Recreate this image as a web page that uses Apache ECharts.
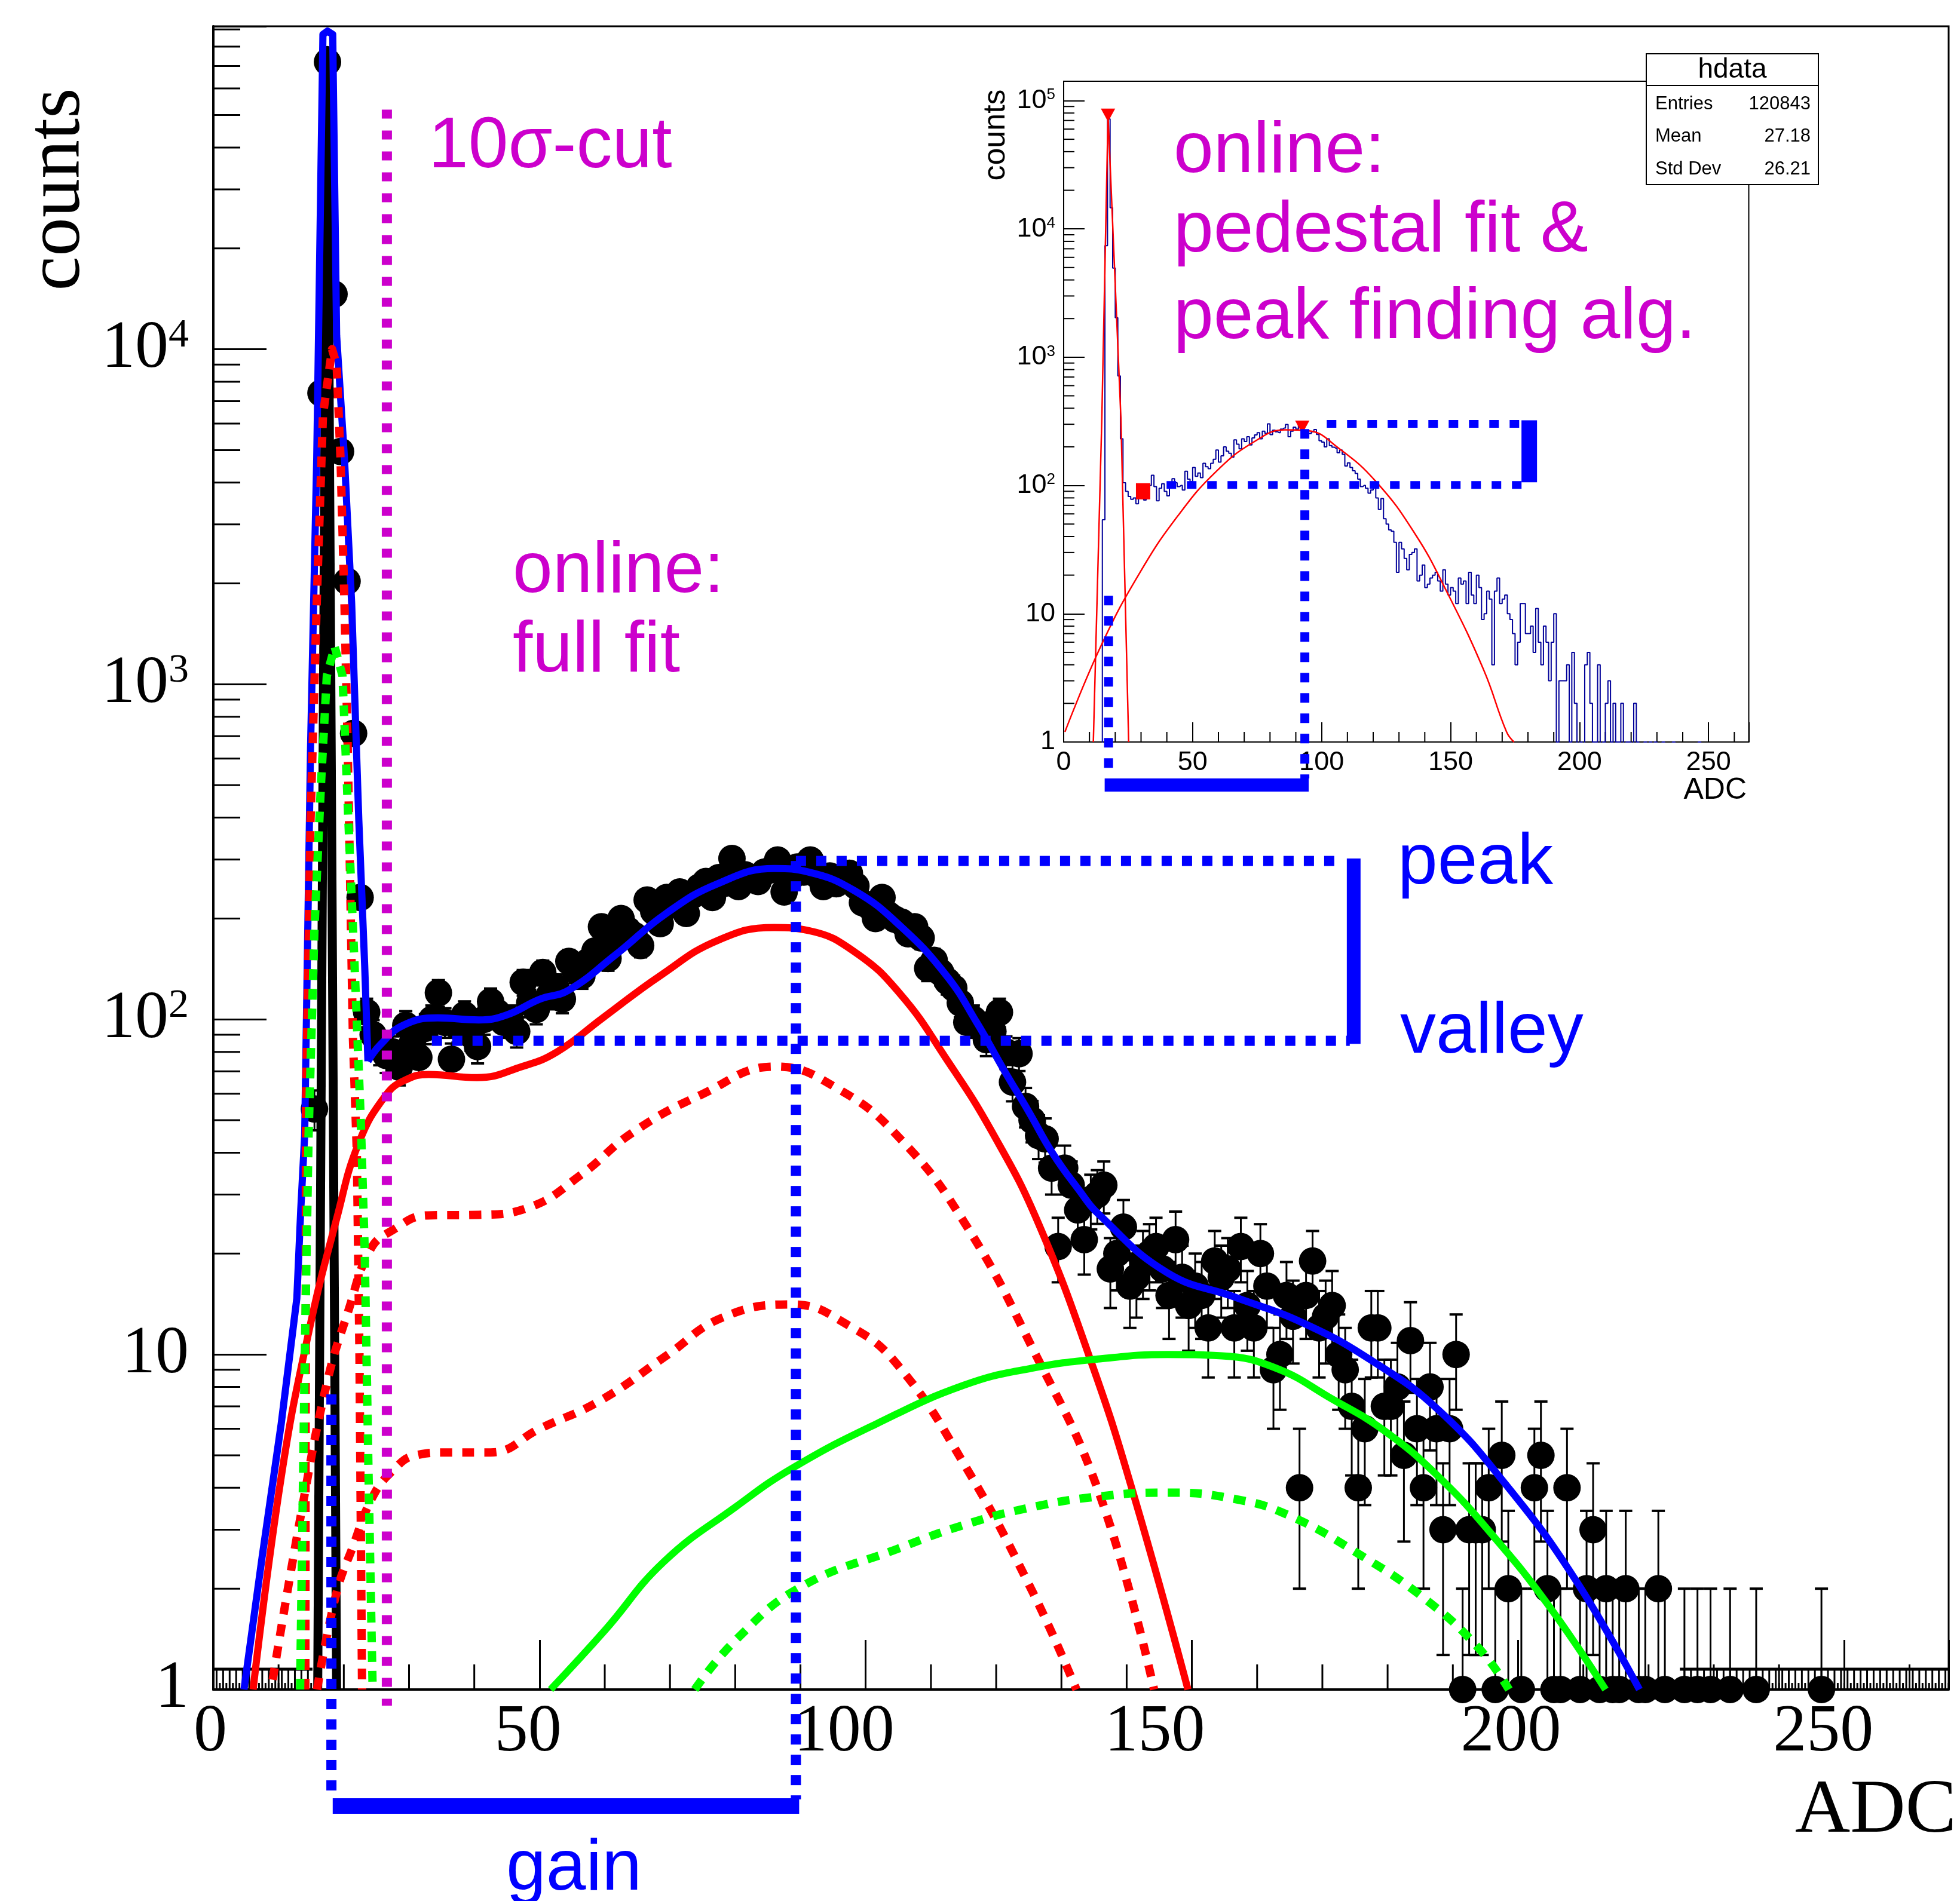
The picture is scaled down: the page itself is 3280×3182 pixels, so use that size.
<!DOCTYPE html>
<html>
<head>
<meta charset="utf-8">
<title>ADC spectrum</title>
<script src="https://cdn.jsdelivr.net/npm/echarts@6.0.0/dist/echarts.min.js"></script>
<style>
html,body{margin:0;padding:0;background:#ffffff;}
#chart{width:3280px;height:3182px;}
</style>
</head>
<body>
<div id="chart"></div>
<script>
// ===================== DATA =====================
// counts per 1-ADC bin; bin i covers [i, i+1)
const binWidth = 1;
const counts = [
  0,0,0,0,0,0,0,0,0,0,
  0,0,0,0,0,54,7400,72000,14600,4950,
  2030,714,231,105,90,82,78,80,72,96,
  85,77,94,100,120,98,76,95,103,90,
  83,100,113,105,98,100,92,129,112,107,
  138,118,125,115,149,140,135,149,160,189,
  152,170,200,185,178,166,227,210,193,231,
  220,240,207,235,248,258,231,265,255,302,
  249,270,262,258,275,280,299,240,265,285,
  275,299,270,249,268,254,262,273,250,223,
  218,200,231,205,199,195,180,189,175,142,
  150,138,130,124,112,98,100,95,87,92,
  105,80,65,79,55,50,45,44,36,21,
  36,32,27,22,29,30,32,18,20,24,
  16,17,19,20,21,18,15,22,17,14,
  16,15,12,19,17,18,12,21,14,12,
  20,16,9,10,15,13,4,15,19,12,
  13,14,10,9,7,4,6,12,12,7,
  7,8,5,11,6,4,8,6,3,6,
  10,1,3,3,3,4,1,5,2,0,
  1,0,4,5,2,1,1,4,0,1,
  2,3,1,2,1,1,2,0,1,1,
  0,2,1,0,0,1,0,1,0,1,
  0,0,1,0,0,0,1,0,0,0,
  0,0,0,0,0,0,1,0,0,0,
  0,0,0,0,0,0,0,0,0,0,
  0,0,0,0,0,0
];

// fit components [ADC, counts]
const fitTotalPedestal = [[4.7,1],[7.5,2.5],[10.4,6.2],[12.8,14.7],[13.4,27],[14.0,45],[14.9,645],[15.85,4720],[16.8,87000],[17.5,89000],[18.3,87000],[18.9,11000],[20.1,4720],[21.2,1750],[22.3,393],[23.2,145],[23.7,75]];
const fitTotalSignal = [[23.7,75],[25.6,84],[29.1,96],[34.4,101],[40.7,99.6],[44.9,103],[50.1,115],[54.4,122],[61.5,155],[69.4,207],[77.3,254],[86,282],[91.3,275],[98.3,242],[105.3,190],[112.4,135],[117,98],[121.3,70],[125,53],[128.6,40],[132.4,31.5],[135.9,26],[146.3,17.5],[156.7,14.8],[167.1,12.4],[177.5,9.6],[187.9,6.8],[198.3,4.05],[208.7,2.14],[218.6,1]];
const fitPedestal = [[16.0,1],[16.5,50],[17.45,78000],[18.4,50],[18.9,1]];
const fitSignal = [[6.1,1],[10.4,4.3],[14.6,11.6],[18.9,25.4],[22.3,42.8],[26.5,59.6],[29.5,66],[33,68.5],[40.4,67],[47.4,72.4],[52.7,80],[59.7,101],[68.5,135],[77.3,172],[86,188],[91.3,184],[98.3,159],[105.3,119],[112.4,76],[119.4,46],[126.4,24.8],[134.9,9.1],[141.1,3.8],[149.4,1]];
const fitSignalA = [[9.1,1.07],[13.4,3.3],[17.4,8.2],[20.7,13.5],[24.1,20.6],[27.5,23.5],[32.8,26],[40.7,26.1],[48.5,27.5],[56.4,34.4],[64.3,46],[74.8,59.6],[86.1,72.3],[95.9,61.8],[105.3,44],[115.1,24.8],[125.5,10.5],[135.9,3.8],[144.2,1]];
const fitSignalB = [[15.9,1],[18.9,1.95],[21.4,2.67],[24.4,3.75],[27.5,4.5],[31,5.0],[36,5.1],[42.5,5.1],[50,6.0],[59.4,7.3],[69.4,9.9],[78.1,12.9],[88.7,14.1],[97.4,12.2],[104.9,9.3],[115.1,4.7],[125.5,1.97],[132.3,1]];
const fitPedRed = [[14.1,1],[14.2,54],[14.9,393],[15.85,1750],[16.8,6350],[18.2,10000],[18.9,9000],[19.5,4700],[20.1,1750],[20.6,645],[21.0,239],[21.4,88],[22.0,40],[22.4,10],[22.8,1]];
const fitPedGreen = [[13.3,1],[14.0,9.4],[14.6,45],[15.5,186],[16.5,504],[17.4,1060],[18.6,1295],[19.8,1060],[20.7,393],[21.65,145],[22.6,50],[23.2,20.6],[23.8,4.3],[24.4,1.05]];
const fitBackground = [[51.7,1],[60,1.5],[69,2.4],[80,3.5],[88.7,4.57],[101.6,6.2],[115.1,8.1],[125.5,9.1],[135.9,9.7],[146.3,10],[154.6,9.9],[162.9,9.1],[171.3,7.4],[179.6,5.9],[187.9,4.3],[196.2,2.87],[204.5,1.8],[213.4,1]];
const fitBackgroundB = [[73.8,1],[80,1.4],[90,2.02],[104.9,2.63],[115.1,3.1],[125.5,3.5],[135.9,3.77],[146.3,3.87],[156.7,3.7],[165,3.3],[175.4,2.55],[185.8,1.86],[194.1,1.32],[198.6,1]];

// empty-bin bands along the bottom [ADC from, ADC to, level]
const emptyBands = [[0, 15.2, 1.15], [224.8, 266, 1.15]];

// annotations (data units)
const cutLine = [[26.6, 51900], [26.6, 0.895]];
const peakLine = [[89.3, 297], [172.7, 297]];
const valleyLine = [[33.5, 86.3], [174.2, 86.3]];
const peakValleyBar = [[174.8, 302], [174.8, 84.5]];
const gainLeft = [[18.1, 7.6], [18.1, 0.47]];
const gainRight = [[89.3, 297], [89.3, 0.47]];
const gainBar = [[18.3, 0.449], [89.8, 0.449]];

// inset: online fits and peak finding
const insetPedFit = [[11.5,1],[14.8,333],[17.2,77000],[22.2,333],[25.2,1]];
const insetWideFit = [[0.5,1.2],[14.8,5.8],[29.6,21],[44.3,58],[59.2,129],[74,220],[85.8,271],[94.7,267],[106.5,196],[121.3,106],[136.2,42],[148,15.6],[162.8,3.66],[171.7,1.2],[174.6,1]];
const insetPeaks = [[17.2, 77000], [92.5, 285]];
const insetValley = [[30.8, 90]];
const insetPeakLine = [[102, 302], [177.3, 302]];
const insetValleyLine = [[39.9, 101], [179, 101]];
const insetBar = [[180.5, 322], [180.5, 106]];
const insetGainLeft = [[17.4, 13.8], [17.4, 0.52]];
const insetGainRight = [[93.5, 275], [93.5, 0.52]];
const insetGainBar = [[15.9, 0.462], [95, 0.462]];

// axes
const xMajorTicks = [0, 50, 100, 150, 200, 250];
const xMinorTicks = [10,20,30,40,60,70,80,90,110,120,130,140,160,170,180,190,210,220,230,240,260];
const mainYMax = 92000, insetYMax = 141600;
const statsTitle = 'hdata';
const statsRows = [['Entries', '120843'], ['Mean', '27.18'], ['Std Dev', '26.21']];

// ===================== BUILD =====================
const points = [];
counts.forEach((c, i) => { if (c > 0) points.push([(i + 0.5) * binWidth, c]); });
const histSteps = counts.map((c, i) => [(i + 0.5) * binWidth, c > 0 ? c : 0.2]);

function logMinorTicks(max) {
  const out = [];
  for (let d = 1; d <= max; d *= 10) for (let k = 2; k <= 9; k++) if (k * d <= max) out.push(k * d);
  return out;
}

const MAG = '#cc00cc', BLUE = '#0000ff', RED = '#ff0000', GREEN = '#00ff00';
const SERIF = 'Liberation Serif', SANS = 'Liberation Sans';

function tickSeries(xi, yi, values, dir, len, width) {
  return {
    type: 'custom', xAxisIndex: xi, yAxisIndex: yi, silent: true, z: 3, clip: false,
    data: values.map(v => dir === 'x' ? [v, 1] : [0, v]),
    renderItem: function (params, api) {
      const p = api.coord([api.value(0), api.value(1)]);
      const shape = dir === 'x' ? { x1: p[0], y1: p[1], x2: p[0], y2: p[1] - len }
                                : { x1: p[0], y1: p[1], x2: p[0] + len, y2: p[1] };
      return { type: 'line', shape: shape, style: { stroke: '#000', lineWidth: width } };
    }
  };
}

function curve(data, color, width, dash, z, xi, yi, clip, smooth) {
  return {
    type: 'line', data: data, xAxisIndex: xi || 0, yAxisIndex: yi || 0,
    showSymbol: false, symbol: 'none', silent: true, z: z,
    clip: clip !== false, smooth: smooth || false,
    lineStyle: { color: color, width: width, type: dash || 'solid', cap: 'butt', join: 'round' }
  };
}

const xShift = { 0: 10, 50: 38, 100: 72, 150: 124, 200: 24, 250: 70 };
const xRich = {};
Object.keys(xShift).forEach(k => {
  xRich['l' + k] = { fontFamily: SERIF, fontSize: 112, color: '#000', lineHeight: 112, padding: [0, xShift[k], 0, 0] };
});

function decadeLabel(v) {
  const e = Math.log10(v), r = Math.round(e);
  if (Math.abs(e - r) > 1e-6) return '';
  if (r === 0) return '{b|1}';
  if (r === 1) return '{b|10}';
  return '{b|10}{s|' + r + '}';
}

const option = {
  animation: false,
  backgroundColor: '#ffffff',
  grid: [
    { left: 357, top: 44, right: 19, bottom: 354, show: true, borderColor: '#000', borderWidth: 3, backgroundColor: 'rgba(0,0,0,0)' },
    { left: 1780, top: 136, width: 1146.5, height: 1106, show: true, borderColor: '#000', borderWidth: 2, backgroundColor: '#ffffff' }
  ],
  xAxis: [
    {
      gridIndex: 0, type: 'value', min: 0, max: 266, interval: 50,
      axisLine: { show: true, onZero: false, lineStyle: { color: '#000', width: 4 } },
      axisTick: { show: true, inside: true, length: 83, lineStyle: { color: '#000', width: 3 } },
      splitLine: { show: false },
      axisLabel: {
        margin: 17, color: '#000', fontFamily: SERIF, fontSize: 112,
        formatter: v => (xMajorTicks.indexOf(v) >= 0 ? '{l' + v + '|' + v + '}' : ''),
        rich: xRich
      }
    },
    {
      gridIndex: 1, type: 'value', min: 0, max: 265.6, interval: 50,
      axisLine: { show: true, onZero: false, lineStyle: { color: '#000', width: 2 } },
      axisTick: { show: true, inside: true, length: 33, lineStyle: { color: '#000', width: 2 } },
      splitLine: { show: false },
      axisLabel: {
        margin: 12, color: '#000', fontFamily: SANS, fontSize: 45,
        formatter: v => (xMajorTicks.indexOf(v) >= 0 ? String(v) : '')
      }
    }
  ],
  yAxis: [
    {
      gridIndex: 0, type: 'log', logBase: 10, min: 1, max: mainYMax, interval: 1,
      axisLine: { show: true, onZero: false, lineStyle: { color: '#000', width: 4 } },
      axisTick: { show: true, inside: true, length: 89, lineStyle: { color: '#000', width: 3 } },
      splitLine: { show: false }, minorTick: { show: false },
      axisLabel: {
        margin: 41, color: '#000', formatter: decadeLabel,
        rich: {
          b: { fontFamily: SERIF, fontSize: 112, lineHeight: 112, color: '#000' },
          s: { fontFamily: SERIF, fontSize: 68, lineHeight: 44, verticalAlign: 'top', color: '#000' }
        }
      }
    },
    {
      gridIndex: 1, type: 'log', logBase: 10, min: 1, max: insetYMax, interval: 1,
      axisLine: { show: true, onZero: false, lineStyle: { color: '#000', width: 2 } },
      axisTick: { show: true, inside: true, length: 35, lineStyle: { color: '#000', width: 2 } },
      splitLine: { show: false }, minorTick: { show: false },
      axisLabel: {
        margin: 14, color: '#000', formatter: decadeLabel,
        rich: {
          b: { fontFamily: SANS, fontSize: 45, lineHeight: 45, color: '#000' },
          s: { fontFamily: SANS, fontSize: 26, lineHeight: 22, verticalAlign: 'top', color: '#000' }
        }
      }
    }
  ],
  series: [
    // minor ticks
    tickSeries(0, 0, xMinorTicks, 'x', 42, 3),
    tickSeries(0, 0, logMinorTicks(mainYMax), 'y', 45, 3),
    tickSeries(1, 1, xMinorTicks, 'x', 17, 2),
    tickSeries(1, 1, logMinorTicks(insetYMax), 'y', 18, 2),
    // empty-bin bands
    {
      type: 'custom', xAxisIndex: 0, yAxisIndex: 0, silent: true, z: 3, clip: true,
      data: emptyBands,
      renderItem: function (params, api) {
        const x0 = api.value(0), x1 = api.value(1), lv = api.value(2);
        const a = api.coord([x0, lv]), b = api.coord([x1, lv]);
        const base = api.coord([x0, 1])[1];
        const children = [{ type: 'line', shape: { x1: a[0], y1: a[1], x2: b[0], y2: b[1] }, style: { stroke: '#000', lineWidth: 5 } }];
        for (let x = Math.ceil(x0 * 2) / 2; x <= x1; x += 0.5) {
          const p = api.coord([x, lv]);
          const tall = Math.abs(x - Math.floor(x) - 0.5) < 1e-6;
          children.push({ type: 'line', shape: { x1: p[0], y1: tall ? p[1] : base - 11, x2: p[0], y2: base }, style: { stroke: '#000', lineWidth: 3 } });
        }
        return { type: 'group', children: children };
      }
    },
    // error bars
    {
      type: 'custom', xAxisIndex: 0, yAxisIndex: 0, silent: true, z: 4, clip: true,
      data: points,
      renderItem: function (params, api) {
        const x = api.value(0), n = api.value(1), e = Math.sqrt(n);
        const hi = api.coord([x, n + e]);
        const loV = n - e;
        const lo = api.coord([x, Math.max(loV, 1)]);
        const children = [
          { type: 'line', shape: { x1: hi[0], y1: hi[1], x2: lo[0], y2: lo[1] }, style: { stroke: '#000', lineWidth: 3 } },
          { type: 'line', shape: { x1: hi[0] - 11, y1: hi[1], x2: hi[0] + 11, y2: hi[1] }, style: { stroke: '#000', lineWidth: 4 } }
        ];
        if (loV >= 1) children.push({ type: 'line', shape: { x1: lo[0] - 11, y1: lo[1], x2: lo[0] + 11, y2: lo[1] }, style: { stroke: '#000', lineWidth: 4 } });
        return { type: 'group', children: children };
      }
    },
    // data points
    {
      type: 'scatter', xAxisIndex: 0, yAxisIndex: 0, data: points, symbol: 'circle', symbolSize: 46,
      itemStyle: { color: '#000', opacity: 1 }, silent: true, z: 5, clip: false
    },
    // fit components
    curve(fitPedestal, '#000', 15, 'solid', 6),
    curve(fitTotalPedestal, BLUE, 12, 'solid', 7),
    curve(fitTotalSignal, BLUE, 12, 'solid', 7, 0, 0, true, 0.45),
    curve(fitSignal, RED, 12, 'solid', 8, 0, 0, true, 0.45),
    curve(fitPedRed, RED, 14, [18, 15], 9),
    curve(fitSignalA, RED, 14, [20, 17], 9, 0, 0, true, 0.45),
    curve(fitSignalB, RED, 14, [20, 17], 9, 0, 0, true, 0.45),
    curve(fitBackground, GREEN, 12, 'solid', 10, 0, 0, true, 0.45),
    curve(fitPedGreen, GREEN, 14, [18, 15], 10),
    curve(fitBackgroundB, GREEN, 14, [20, 17], 10, 0, 0, true, 0.45),
    // annotations
    curve(peakLine, BLUE, 17, [17, 17], 11, 0, 0, false),
    curve(valleyLine, BLUE, 17, [17, 17], 11, 0, 0, false),
    curve(gainLeft, BLUE, 17, [17, 17], 11, 0, 0, false),
    curve(gainRight, BLUE, 17, [17, 17], 11, 0, 0, false),
    curve(peakValleyBar, BLUE, 23, 'solid', 11, 0, 0, false),
    curve(gainBar, BLUE, 26, 'solid', 11, 0, 0, false),
    curve(cutLine, MAG, 17, [15, 20], 12, 0, 0, false),
    // ---------- inset ----------
    {
      type: 'line', xAxisIndex: 1, yAxisIndex: 1, data: histSteps, step: 'middle',
      showSymbol: false, symbol: 'none', silent: true, z: 6, clip: true,
      lineStyle: { color: '#000099', width: 2 }
    },
    curve(insetPedFit, RED, 2.5, 'solid', 7, 1, 1),
    curve(insetWideFit, RED, 2.5, 'solid', 7, 1, 1, true, 0.45),
    {
      type: 'scatter', xAxisIndex: 1, yAxisIndex: 1, data: insetPeaks, symbol: 'triangle', symbolRotate: 180,
      symbolSize: [24, 22], itemStyle: { color: RED, opacity: 1 }, silent: true, z: 8, clip: false
    },
    {
      type: 'scatter', xAxisIndex: 1, yAxisIndex: 1, data: insetValley, symbol: 'rect',
      symbolSize: [24, 27], itemStyle: { color: RED, opacity: 1 }, silent: true, z: 8, clip: false
    },
    curve(insetPeakLine, BLUE, 13, [16, 18], 9, 1, 1, false),
    curve(insetValleyLine, BLUE, 13, [16, 18], 9, 1, 1, false),
    curve(insetGainLeft, BLUE, 15, [16, 18], 9, 1, 1, false),
    curve(insetGainRight, BLUE, 15, [16, 18], 9, 1, 1, false),
    curve(insetBar, BLUE, 26, 'solid', 9, 1, 1, false),
    curve(insetGainBar, BLUE, 22, 'solid', 9, 1, 1, false)
  ],
  graphic: {
    elements: [
      // main axis titles
      { type: 'text', x: 98, y: 317, rotation: Math.PI / 2, z: 50,
        style: { text: 'counts', fontFamily: SERIF, fontSize: 130, fill: '#000', align: 'center', verticalAlign: 'middle' } },
      { type: 'text', x: 3274, y: 3032, z: 50,
        style: { text: 'ADC', fontFamily: SERIF, fontSize: 128, fill: '#000', align: 'right', verticalAlign: 'middle' } },
      // main annotations
      { type: 'text', x: 717, y: 247, z: 50,
        style: { text: '10\u03c3-cut', fontFamily: SANS, fontSize: 120, fill: MAG, align: 'left', verticalAlign: 'middle' } },
      { type: 'text', x: 858, y: 958, z: 50,
        style: { text: 'online:', fontFamily: SANS, fontSize: 120, fill: MAG, align: 'left', verticalAlign: 'middle' } },
      { type: 'text', x: 858, y: 1091, z: 50,
        style: { text: 'full fit', fontFamily: SANS, fontSize: 120, fill: MAG, align: 'left', verticalAlign: 'middle' } },
      { type: 'text', x: 2339, y: 1446, z: 50,
        style: { text: 'peak', fontFamily: SANS, fontSize: 120, fill: BLUE, align: 'left', verticalAlign: 'middle' } },
      { type: 'text', x: 2343, y: 1729, z: 50,
        style: { text: 'valley', fontFamily: SANS, fontSize: 120, fill: BLUE, align: 'left', verticalAlign: 'middle' } },
      { type: 'text', x: 847, y: 3130, z: 50,
        style: { text: 'gain', fontFamily: SANS, fontSize: 120, fill: BLUE, align: 'left', verticalAlign: 'middle' } },
      // inset titles
      { type: 'text', x: 1667, y: 226, rotation: Math.PI / 2, z: 50,
        style: { text: 'counts', fontFamily: SANS, fontSize: 52, fill: '#000', align: 'center', verticalAlign: 'middle' } },
      { type: 'text', x: 2923, y: 1323, z: 50,
        style: { text: 'ADC', fontFamily: SANS, fontSize: 50, fill: '#000', align: 'right', verticalAlign: 'middle' } },
      // inset annotations
      { type: 'text', x: 1964, y: 255, z: 50,
        style: { text: 'online:', fontFamily: SANS, fontSize: 120, fill: MAG, align: 'left', verticalAlign: 'middle' } },
      { type: 'text', x: 1964, y: 388, z: 50,
        style: { text: 'pedestal fit &', fontFamily: SANS, fontSize: 120, fill: MAG, align: 'left', verticalAlign: 'middle' } },
      { type: 'text', x: 1964, y: 533, z: 50,
        style: { text: 'peak finding alg.', fontFamily: SANS, fontSize: 120, fill: MAG, align: 'left', verticalAlign: 'middle' } },
      // stats box
      { type: 'rect', z: 60, shape: { x: 2755, y: 90, width: 288, height: 219 }, style: { fill: '#fff', stroke: '#000', lineWidth: 2 } },
      { type: 'line', z: 61, shape: { x1: 2755, y1: 143, x2: 3043, y2: 143 }, style: { stroke: '#000', lineWidth: 2 } },
      { type: 'text', x: 2899, y: 117, z: 62,
        style: { text: statsTitle, fontFamily: SANS, fontSize: 46, fill: '#000', align: 'center', verticalAlign: 'middle' } }
    ].concat(
      statsRows.map((r, i) => ({ type: 'text', x: 2770, y: 174 + i * 54.5, z: 62,
        style: { text: r[0], fontFamily: SANS, fontSize: 31, fill: '#000', align: 'left', verticalAlign: 'middle' } })),
      statsRows.map((r, i) => ({ type: 'text', x: 3030, y: 174 + i * 54.5, z: 62,
        style: { text: r[1], fontFamily: SANS, fontSize: 31, fill: '#000', align: 'right', verticalAlign: 'middle' } }))
    )
  }
};

const chart = echarts.init(document.getElementById('chart'), null, { renderer: 'canvas', width: 3280, height: 3182 });
chart.setOption(option);
</script>
</body>
</html>
